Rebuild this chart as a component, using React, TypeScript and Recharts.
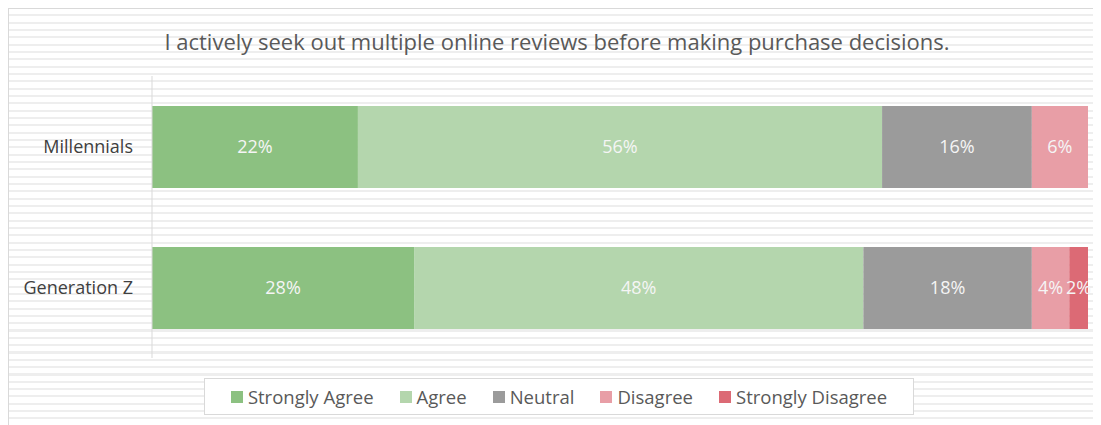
import React from 'react'
import { BarChart, Bar, XAxis, YAxis, LabelList } from 'recharts'

// Données : part des réponses par génération (en %)
const categories = ['Millennials', 'Generation Z']
const seriesNames = ['Strongly Agree', 'Agree', 'Neutral', 'Disagree', 'Strongly Disagree']
const stronglyAgree = [22, 28]
const agree = [56, 48]
const neutral = [16, 18]
const disagree = [6, 4]
const stronglyDisagree = [0, 2]
const colors = ['#8cc181', '#b4d6ad', '#9b9b9b', '#e89ea6', '#dc6a75']

const keys = ['sa', 'a', 'n', 'd', 'sd']
const values = [stronglyAgree, agree, neutral, disagree, stronglyDisagree]
const rows = categories.map((name, i) => {
  const row: Record<string, any> = { name }
  keys.forEach((k, j) => (row[k] = values[j][i]))
  return row
})

const FONT = '"Open Sans", "Noto Sans", sans-serif'
const fmtPct = (v: any) => (v ? `${v}%` : '')

export default function App() {
  return (
    <div
      style={{
        position: 'relative',
        width: 1092,
        height: 416,
        borderLeft: '1px solid #d9d9d9',
        borderTop: '1px solid #d9d9d9',
        fontFamily: FONT,
        background:
          'repeating-linear-gradient(to bottom, #ffffff 0px, #ffffff 5.3px, #eeeeee 5.3px, #eeeeee 7.33px)',
        overflow: 'hidden',
      }}
    >
      <div
        style={{
          position: 'absolute',
          top: 17,
          left: 0,
          width: 1096,
          textAlign: 'center',
          fontSize: 22,
          color: '#595959',
        }}
      >
        I actively seek out multiple online reviews before making purchase decisions.
      </div>
      <div style={{ position: 'absolute', left: 0, top: 0 }}>
        <BarChart
          width={1093}
          height={416}
          data={rows}
          layout="vertical"
          margin={{ top: 67, right: 14, bottom: 67, left: 0 }}
        >
          <XAxis type="number" domain={[0, 100]} hide />
          <YAxis
            type="category"
            dataKey="name"
            width={143}
            tickLine={false}
            tickMargin={13}
            axisLine={{ stroke: '#d9d9d9' }}
            tick={{ fontSize: 18, fill: '#404040', fontFamily: FONT }}
          />
          {keys.map((k, j) => (
            <Bar key={k} dataKey={k} stackId="s" fill={colors[j]} barSize={82} isAnimationActive={false}>
              <LabelList
                dataKey={k}
                position="center"
                formatter={fmtPct}
                fill="#f5f5f5"
                style={{ fontSize: 18, fontFamily: FONT }}
              />
            </Bar>
          ))}
        </BarChart>
      </div>
      <div
        style={{
          position: 'absolute',
          left: 195,
          top: 369,
          width: 708,
          height: 35,
          border: '1px solid #d9d9d9',
          background: '#fff',
          display: 'flex',
          alignItems: 'center',
          justifyContent: 'center',
          gap: 26,
          fontSize: 18.5,
          color: '#595959',
        }}
      >
        {seriesNames.map((s, j) => (
          <div key={s} style={{ display: 'flex', alignItems: 'center', gap: 5 }}>
            <span style={{ width: 12, height: 12, background: colors[j], display: 'inline-block' }} />
            <span>{s}</span>
          </div>
        ))}
      </div>
    </div>
  )
}
